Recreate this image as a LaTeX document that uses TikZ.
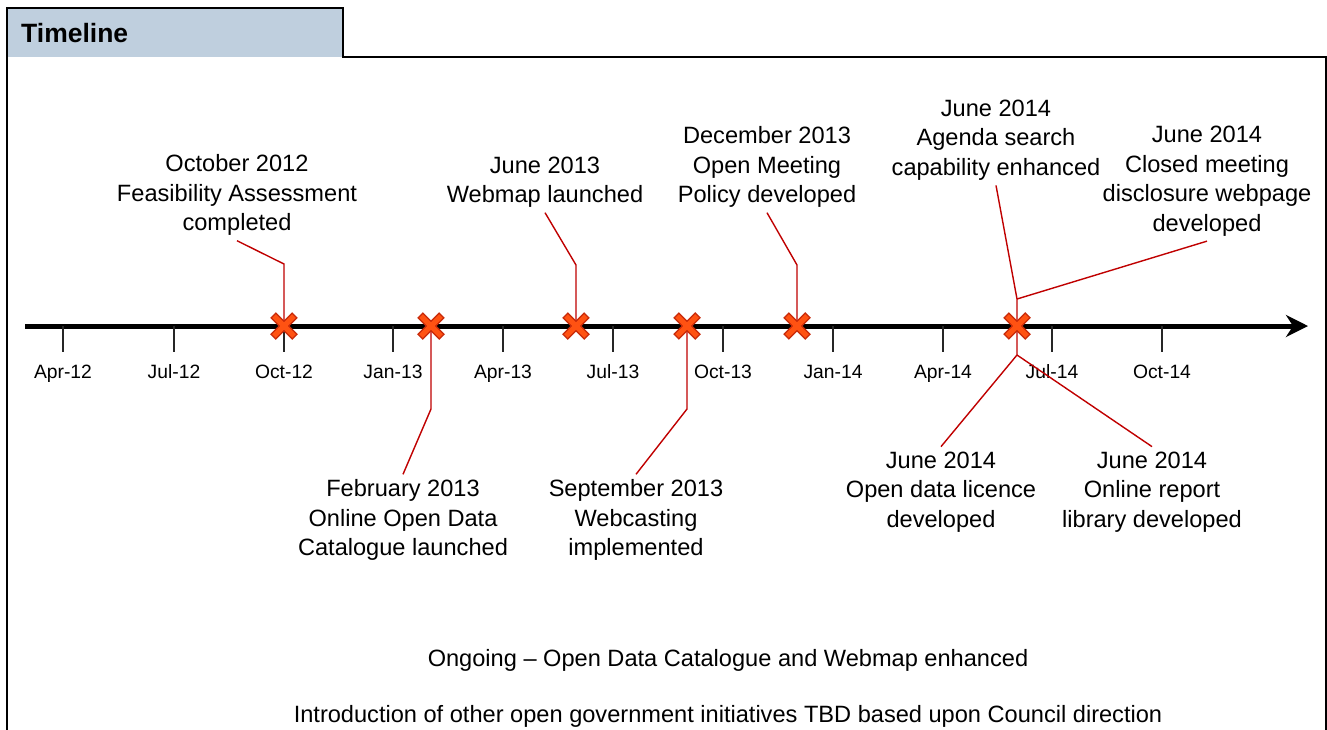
\documentclass[tikz,border=0pt]{standalone}
\usepackage{fontspec}
\setmainfont{Liberation Sans}
\usetikzlibrary{arrows.meta}
\definecolor{tabfill}{HTML}{BFCFDE}
\definecolor{callred}{HTML}{C00000}
\definecolor{xouter}{HTML}{C82A0A}
\definecolor{xinner}{HTML}{FF5212}
\tikzset{
  frame/.style={line width=2.5pt,black},
  axisline/.style={line width=5pt,-{Stealth[length=22pt,width=22pt,inset=7pt]}},
  tickline/.style={line width=1.5pt,black!85},
  ticklabel/.style={font=\fontsize{19.3}{22}\selectfont,inner sep=0pt,anchor=base},
  callout/.style={font=\fontsize{23.6}{29.5}\selectfont,align=center,inner sep=5pt},
  leader/.style={line width=1.4pt,callred},
  bottomtext/.style={font=\fontsize{23.6}{29.5}\selectfont,inner sep=0pt},
}
\newcommand{\xmark}[1]{%
  \draw[line width=8pt,xouter] ([shift={(-11,-11)}]#1) -- ([shift={(11,11)}]#1) ([shift={(-11,11)}]#1) -- ([shift={(11,-11)}]#1);
  \draw[line width=5pt,xinner] ([shift={(-10,-10)}]#1) -- ([shift={(10,10)}]#1) ([shift={(-10,10)}]#1) -- ([shift={(10,-10)}]#1);
}
\begin{document}
\begin{tikzpicture}[x=1pt,y=-1pt]
\useasboundingbox (0,0) rectangle (1327,729);
% frame
\fill[white] (0,0) rectangle (1327,729);
\filldraw[frame,fill=tabfill] (7,57) -- (7,8) -- (343,8) -- (343,57);
\draw[frame] (7,730) -- (7,8) -- (343,8) -- (343,57) -- (1326,57) -- (1326,730);
\node[anchor=west,font=\bfseries\fontsize{26.5}{30}\selectfont,inner sep=0pt] (title) at (21,33) {Timeline};
% axis
\coordinate (axstart) at (25,326);
\coordinate (axend) at (1308,326);
\draw[axisline] (axstart) -- (axend);
% ticks and labels
\foreach \x/\lab/\nm in {63/Apr-12/t1,174/Jul-12/t2,284/Oct-12/t3,393/Jan-13/t4,503/Apr-13/t5,613/Jul-13/t6,723/Oct-13/t7,833/Jan-14/t8,943/Apr-14/t9,1052/Jul-14/t10,1162/Oct-14/t11}{
  \coordinate (\nm) at (\x,326);
  \draw[tickline] (\nm) -- ++(0,26);
  \node[ticklabel] (\nm lab) at (\x,378) {\lab};
}
% markers (positions)
\coordinate (m1) at (284,326);
\coordinate (m2) at (431,326);
\coordinate (m3) at (576,326);
\coordinate (m4) at (687,326);
\coordinate (m5) at (797,326);
\coordinate (m6) at (1017,326);
% callout texts
\node[callout] (c1) at (237,195) {October 2012\\Feasibility Assessment\\completed};
\node[callout] (c2) at (403,520) {February 2013\\Online Open Data\\Catalogue launched};
\node[callout] (c3) at (545,182) {June 2013\\Webmap launched};
\node[callout] (c4) at (636,520) {September 2013\\Webcasting\\implemented};
\node[callout] (c5) at (767,167) {December 2013\\Open Meeting\\Policy developed};
\node[callout] (c6) at (996,140) {June 2014\\Agenda search\\capability enhanced};
\node[callout] (c7) at (1207,181) {June 2014\\Closed meeting\\disclosure webpage\\developed};
\node[callout] (c8) at (941,492) {June 2014\\Open data licence\\developed};
\node[callout] (c9) at (1152,492) {June 2014\\Online report\\library developed};
% bends
\coordinate (b1) at (284,264);
\coordinate (b2) at (431,409);
\coordinate (b3) at (576,265);
\coordinate (b4) at (687,409);
\coordinate (b5) at (797,265);
\coordinate (b6) at (1017,299);
\coordinate (b8) at (1017,355);
% leaders
\draw[leader] (m1) -- (b1) -- (c1.south);
\draw[leader] (m2) -- (b2) -- (c2.north);
\draw[leader] (m3) -- (b3) -- (c3.south);
\draw[leader] (m4) -- (b4) -- (c4.north);
\draw[leader] (m5) -- (b5) -- (c5.south);
\draw[leader] (m6) -- (b6) -- (c6.south);
\draw[leader] (b6) -- (c7.south);
\draw[leader] (m6) -- (b8) -- (c8.north);
\draw[leader] (b8) -- (c9.north);
% markers
\xmark{m1}
\xmark{m2}
\xmark{m3}
\xmark{m4}
\xmark{m5}
\xmark{m6}
% bottom texts
\node[bottomtext] (ongoing) at (728,660) {Ongoing – Open Data Catalogue and Webmap enhanced};
\node[bottomtext] (intro) at (728,716) {Introduction of other open government initiatives TBD based upon Council direction};
\end{tikzpicture}
\end{document}
